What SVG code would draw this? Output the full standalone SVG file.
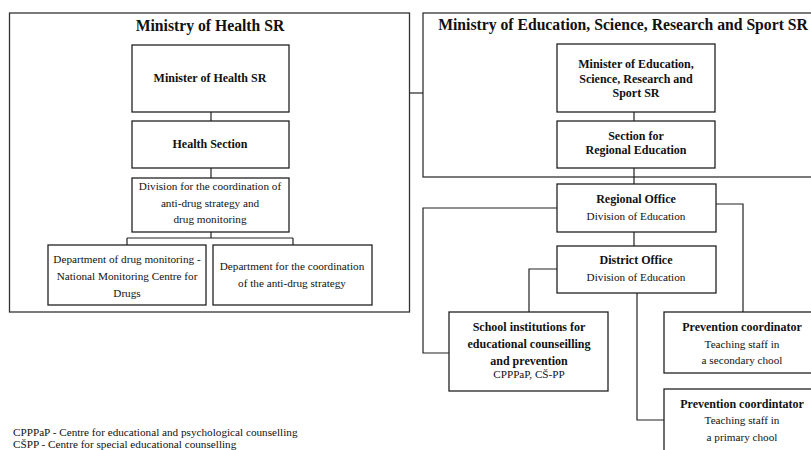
<svg xmlns="http://www.w3.org/2000/svg" width="811" height="450" viewBox="0 0 811 450">
<style>
.box{fill:#fff;stroke:#222;stroke-width:1.3}
.outer{fill:none;stroke:#333;stroke-width:1.3}
.ln{fill:none;stroke:#222;stroke-width:1.2}
text{font-family:'Liberation Serif','DejaVu Serif',serif;fill:#111;text-anchor:middle}
.t{font-size:15.7px;font-weight:bold}
.b{font-size:12px;font-weight:bold}
.r{font-size:11.2px}
.l{text-anchor:start}
</style>
<rect x="0" y="0" width="811" height="450" fill="#fff"/>
<g id="ministry-health">
<rect class="outer" x="9.5" y="13" width="400" height="299"/>
<text class="t" x="210" y="31">Ministry of Health SR</text>
</g>
<g id="ministry-education">
<rect class="outer" x="423" y="13" width="392" height="164"/>
<text class="t" x="623" y="30">Ministry of Education, Science, Research and Sport SR</text>
</g>
<g id="connectors">
<path class="ln" d="M409.5 93H423"/>
<path class="ln" d="M211 112V121M211 168V178M211 232V238M127 238H293M127 238V245M293 238V245"/>
<path class="ln" d="M634 112V121M634 168V184M634 232V246"/>
<path class="ln" d="M557 208H423V353H449"/>
<path class="ln" d="M716 204H743V312"/>
<path class="ln" d="M557 269H529V312"/>
<path class="ln" d="M637 293V420H664"/>
</g>
<g id="minister-health">
<rect class="box" x="132" y="45" width="157" height="67"/>
<text class="b" x="210" y="82">Minister of Health SR</text>
</g>
<g id="health-section">
<rect class="box" x="132" y="121" width="157" height="47"/>
<text class="b" x="210" y="148">Health Section</text>
</g>
<g id="division-coordination">
<rect class="box" x="132" y="178" width="157" height="54"/>
<text class="r" x="210" y="190">Division for the coordination of</text>
<text class="r" x="210" y="207">anti-drug strategy and</text>
<text class="r" x="210" y="223">drug monitoring</text>
</g>
<g id="dept-monitoring">
<rect class="box" x="48" y="245" width="158" height="60"/>
<text class="r" x="127" y="263">Department of drug monitoring -</text>
<text class="r" x="127" y="280">National Monitoring Centre for</text>
<text class="r" x="127" y="297">Drugs</text>
</g>
<g id="dept-coordination">
<rect class="box" x="213" y="245" width="159" height="60"/>
<text class="r" x="292" y="270">Department for the coordination</text>
<text class="r" x="292" y="287">of the anti-drug strategy</text>
</g>
<g id="minister-education">
<rect class="box" x="557" y="44" width="158" height="68"/>
<text class="b" x="636" y="68">Minister of Education,</text>
<text class="b" x="636" y="83">Science, Research and</text>
<text class="b" x="636" y="97">Sport SR</text>
</g>
<g id="section-regional">
<rect class="box" x="557" y="121" width="158" height="47"/>
<text class="b" x="636" y="140">Section for</text>
<text class="b" x="636" y="154">Regional Education</text>
</g>
<g id="regional-office">
<rect class="box" x="557" y="184" width="159" height="48"/>
<text class="b" x="636" y="203">Regional Office</text>
<text class="r" x="636" y="220">Division of Education</text>
</g>
<g id="district-office">
<rect class="box" x="557" y="246" width="159" height="47"/>
<text class="b" x="636" y="264">District Office</text>
<text class="r" x="636" y="281">Division of Education</text>
</g>
<g id="school-institutions">
<rect class="box" x="449" y="312" width="159" height="79"/>
<text class="b" x="529" y="331">School institutions for</text>
<text class="b" x="529" y="348">educational counseilling</text>
<text class="b" x="529" y="365">and prevention</text>
<text class="r" x="529" y="378">CPPPaP, CŠ-PP</text>
</g>
<g id="prevention-secondary">
<rect class="box" x="664" y="312" width="150" height="61"/>
<text class="b" x="742" y="331">Prevention coordinator</text>
<text class="r" x="742" y="348">Teaching staff in</text>
<text class="r" x="742" y="364">a secondary chool</text>
</g>
<g id="prevention-primary">
<rect class="box" x="664" y="389" width="150" height="70"/>
<text class="b" x="742" y="408">Prevention coordintator</text>
<text class="r" x="742" y="424">Teaching staff in</text>
<text class="r" x="742" y="441">a primary chool</text>
</g>
<g id="legend">
<text class="r l" x="13" y="436">CPPPaP - Centre for educational and psychological counselling</text>
<text class="r l" x="13" y="448">CŠPP - Centre for special educational counselling</text>
</g>
</svg>
